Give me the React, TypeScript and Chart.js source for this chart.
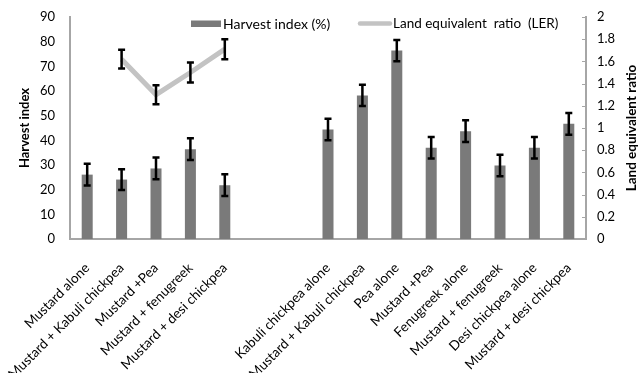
import React, { useEffect, useRef } from "react";
import { Chart, registerables } from "chart.js";

Chart.register(...registerables);

const categories = [
  "Mustard alone",
  "Mustard + Kabuli chickpea",
  "Mustard +Pea",
  "Mustard + fenugreek",
  "Mustard + desi chickpea",
  "",
  "",
  "Kabuli chickpea alone",
  "Mustard + Kabuli chickpea",
  "Pea alone",
  "Mustard +Pea",
  "Fenugreek alone",
  "Mustard + fenugreek",
  "Desi chickpea alone",
  "Mustard + desi chickpea",
];

const harvestIndex = [26.1, 24.1, 28.6, 36.4, 21.8, null, null, 44.4, 58.2, 76.4, 37.0, 43.7, 29.8, 37.0, 46.7];
const harvestErr = [4.4, 4.2, 4.4, 4.4, 4.4, null, null, 4.4, 4.3, 4.3, 4.4, 4.4, 4.4, 4.4, 4.4];
const ler = [null, 1.62, 1.3, 1.5, 1.71, null, null, null, null, null, null, null, null, null, null];
const lerErr = [null, 0.085, 0.085, 0.09, 0.09, null, null, null, null, null, null, null, null, null, null];

const leftTicks = [0, 10, 20, 30, 40, 50, 60, 70, 80, 90];
const rightTicks = [0, 0.2, 0.4, 0.6, 0.8, 1, 1.2, 1.4, 1.6, 1.8, 2];

const FONT = "Lato, 'Open Sans', sans-serif";
const AXIS_COLOR = "#a6a6a6";

const errorBarPlugin = {
  id: "errorBars",
  afterDatasetsDraw(chart: any) {
    const ctx = chart.ctx;
    const sets = [
      { idx: 0, vals: harvestIndex, errs: harvestErr, scale: chart.scales.y },
      { idx: 1, vals: ler, errs: lerErr, scale: chart.scales.y1 },
    ];
    ctx.save();
    ctx.strokeStyle = "#000";
    ctx.lineWidth = 2.5;
    for (const s of sets) {
      const meta = chart.getDatasetMeta(s.idx);
      s.vals.forEach((v: any, i: number) => {
        const e = s.errs[i];
        if (v == null || e == null) return;
        const x = meta.data[i].x;
        const yTop = s.scale.getPixelForValue(v + e);
        const yBot = s.scale.getPixelForValue(v - e);
        ctx.beginPath();
        ctx.moveTo(x, yTop);
        ctx.lineTo(x, yBot);
        ctx.moveTo(x - 3.5, yTop);
        ctx.lineTo(x + 3.5, yTop);
        ctx.moveTo(x - 3.5, yBot);
        ctx.lineTo(x + 3.5, yBot);
        ctx.stroke();
      });
    }
    ctx.restore();
  },
};

const decorPlugin = {
  id: "decor",
  afterDraw(chart: any) {
    const ctx = chart.ctx;
    const y1 = chart.scales.y1;
    ctx.save();
    // inward tick marks on right axis
    ctx.strokeStyle = AXIS_COLOR;
    ctx.lineWidth = 1;
    for (const t of rightTicks) {
      const py = Math.round(y1.getPixelForValue(t)) + 0.5;
      ctx.beginPath();
      ctx.moveTo(y1.left - 4, py);
      ctx.lineTo(y1.left, py);
      ctx.stroke();
    }
    // right axis title (reads bottom to top)
    ctx.fillStyle = "#000";
    ctx.font = `bold 13.5px ${FONT}`;
    ctx.textAlign = "center";
    ctx.textBaseline = "middle";
    ctx.translate(632, (chart.chartArea.top + chart.chartArea.bottom) / 2);
    ctx.rotate(-Math.PI / 2);
    ctx.fillText("Land equivalent ratio", 0, 0);
    ctx.restore();

    // legend
    ctx.save();
    ctx.font = `14px ${FONT}`;
    ctx.textBaseline = "middle";
    ctx.fillStyle = "#7a7a7a";
    ctx.fillRect(191, 20.5, 30, 6.5);
    ctx.fillStyle = "#000";
    ctx.fillText("Harvest index (%)", 223, 24);
    ctx.strokeStyle = "#c3c3c3";
    ctx.lineWidth = 4.5;
    ctx.lineCap = "round";
    ctx.beginPath();
    ctx.moveTo(360, 23.5);
    ctx.lineTo(390, 23.5);
    ctx.stroke();
    ctx.font = `13.5px ${FONT}`;
    ctx.fillText("Land equivalent  ratio  (LER)", 393, 24);
    ctx.restore();
  },
};

export default function App() {
  const ref = useRef<HTMLCanvasElement | null>(null);

  useEffect(() => {
    document.body.style.margin = "0";
    const canvas = ref.current!;
    const chart = new Chart(canvas, {
      type: "bar",
      data: {
        labels: categories,
        datasets: [
          {
            type: "bar",
            label: "Harvest index (%)",
            data: harvestIndex as any,
            backgroundColor: "#7a7a7a",
            barPercentage: 0.64,
            categoryPercentage: 0.5,
            yAxisID: "y",
            order: 2,
          },
          {
            type: "line",
            label: "Land equivalent  ratio  (LER)",
            data: ler as any,
            borderColor: "#c3c3c3",
            borderWidth: 5,
            pointRadius: 0,
            spanGaps: false,
            yAxisID: "y1",
            order: 1,
          } as any,
        ],
      },
      options: {
        responsive: false,
        animation: false,
        layout: { padding: { top: 17, left: 0, right: 0, bottom: 0 } },
        plugins: {
          legend: { display: false },
          tooltip: { enabled: false },
        },
        scales: {
          x: {
            grid: { display: false },
            border: { display: true, color: AXIS_COLOR, width: 2 },
            ticks: {
              minRotation: 45,
              maxRotation: 45,
              autoSkip: false,
              padding: 13,
              color: "#000",
              font: { family: FONT, size: 13.5 },
            },
            afterFit(scale: any) {
              scale.height = 134;
              scale.paddingLeft = 0;
              scale.paddingRight = 0;
            },
          },
          y: {
            position: "left",
            min: 0,
            max: 90,
            afterBuildTicks(scale: any) {
              scale.ticks = leftTicks.map((v) => ({ value: v }));
            },
            grid: { display: false, drawTicks: false },
            border: { display: true, color: AXIS_COLOR, width: 2 },
            ticks: {
              padding: 15,
              color: "#000",
              font: { family: FONT, size: 13 },
            },
            title: {
              display: true,
              text: "Harvest index",
              color: "#000",
              font: { family: FONT, size: 13, weight: "bold" },
              padding: { top: 17, bottom: 0 },
            },
            afterFit(scale: any) {
              scale.width = 70;
              scale.paddingTop = 0;
              scale.paddingBottom = 0;
            },
          },
          y1: {
            position: "right",
            min: 0,
            max: 2,
            afterBuildTicks(scale: any) {
              scale.ticks = rightTicks.map((v) => ({ value: v }));
            },
            grid: { display: false, drawTicks: false },
            border: { display: true, color: AXIS_COLOR, width: 2 },
            ticks: {
              padding: 11,
              color: "#000",
              font: { family: FONT, size: 13 },
              callback: (v: any) => String(Math.round(Number(v) * 10) / 10),
            },
            afterFit(scale: any) {
              scale.width = 53;
              scale.paddingTop = 0;
              scale.paddingBottom = 0;
            },
          },
        },
      },
      plugins: [errorBarPlugin, decorPlugin],
    });
    return () => chart.destroy();
  }, []);

  return (
    <div style={{ position: "fixed", left: 0, top: 0, width: 639, height: 373, background: "#fff" }}>
      <canvas ref={ref} width={639} height={373} style={{ width: 639, height: 373 }} />
    </div>
  );
}
